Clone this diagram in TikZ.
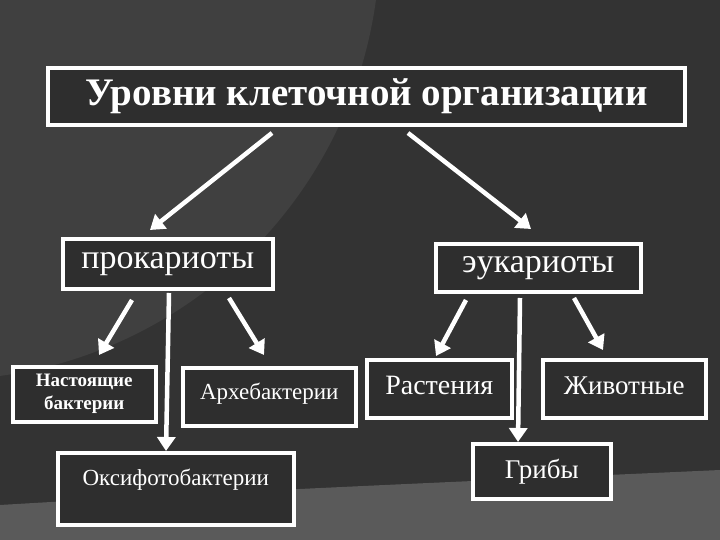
\documentclass[tikz,border=0pt]{standalone}
\usepackage{fontspec}
\setmainfont{Liberation Serif}
\usetikzlibrary{arrows.meta}
\definecolor{bg}{HTML}{333333}
\definecolor{bgl}{HTML}{404040}
\definecolor{bgb}{HTML}{5A5A5A}
\definecolor{boxf}{HTML}{2E2E2E}
\tikzset{
 bx/.style={draw=white,line width=3.5pt,fill=boxf,text=white,font=\bfseries,inner sep=0pt},
 ar/.style={draw=white,line width=4.5pt,-{Triangle[length=14pt,width=18pt]}},
}
\begin{document}
\begin{tikzpicture}[x=1pt,y=-1pt]
\useasboundingbox (0,0) rectangle (720,540);
\begin{scope}
\clip (0,0) rectangle (720,540);
\fill[bg] (0,0) rectangle (720,540);
\fill[bgl] (-60,-60) circle[radius=440pt];
\fill[bgb] (0,540) -- (0,505) .. controls (250,490) and (500,480) .. (720,470) -- (720,540) -- cycle;
\end{scope}
\node[bx,minimum width=637,minimum height=57,font=\bfseries\fontsize{39}{42}\selectfont] (top) at (366.5,96.5) {Уровни клеточной организации};
\node[bx,minimum width=210,minimum height=50,font=\fontsize{34}{36}\selectfont,anchor=north west] (pro) at (61,237) {\raisebox{6pt}{прокариоты}};
\node[bx,minimum width=205,minimum height=48,font=\fontsize{34}{36}\selectfont,anchor=north west] (euk) at (434,242) {\raisebox{-4pt}{эукариоты}};
\node[bx,minimum width=143,minimum height=55,align=center,font=\bfseries\fontsize{19}{23}\selectfont,anchor=north west] (nb) at (11,365) {Настоящие\\бактерии};
\node[bx,minimum width=173,minimum height=58,font=\fontsize{23}{26}\selectfont,anchor=north west] (ar) at (181,366) {\raisebox{10pt}{Архебактерии}};
\node[bx,minimum width=236,minimum height=72,font=\fontsize{23}{26}\selectfont,anchor=north west] (ok) at (56,451) {\raisebox{22pt}{Оксифотобактерии}};
\node[bx,minimum width=145,minimum height=58,font=\fontsize{28}{30}\selectfont,anchor=north west] (ra) at (365,358) {\raisebox{6pt}{Растения}};
\node[bx,minimum width=163,minimum height=58,font=\fontsize{27}{30}\selectfont,anchor=north west] (zh) at (541,358) {\raisebox{6pt}{Животные}};
\node[bx,minimum width=138,minimum height=55,font=\fontsize{27}{30}\selectfont,anchor=north west] (gr) at (471,442) {\raisebox{2pt}{Грибы}};
\coordinate (t1) at (272,133); \coordinate (t2) at (408,133);
\coordinate (p1) at (132,300); \coordinate (p2) at (169,293); \coordinate (p3) at (229,298);
\coordinate (e1) at (466,300); \coordinate (e2) at (520,298); \coordinate (e3) at (574,298);
\coordinate (h1) at (150,230); \coordinate (h2) at (531,229);
\coordinate (hp1) at (99,355); \coordinate (hp2) at (166,451); \coordinate (hp3) at (264,355);
\coordinate (he1) at (436,356); \coordinate (he2) at (518,442); \coordinate (he3) at (603,350);
\draw[ar] (t1) -- (h1);
\draw[ar] (t2) -- (h2);
\draw[ar] (p1) -- (hp1);
\draw[ar] (p2) -- (hp2);
\draw[ar] (p3) -- (hp3);
\draw[ar] (e1) -- (he1);
\draw[ar] (e2) -- (he2);
\draw[ar] (e3) -- (he3);
\end{tikzpicture}
\end{document}
